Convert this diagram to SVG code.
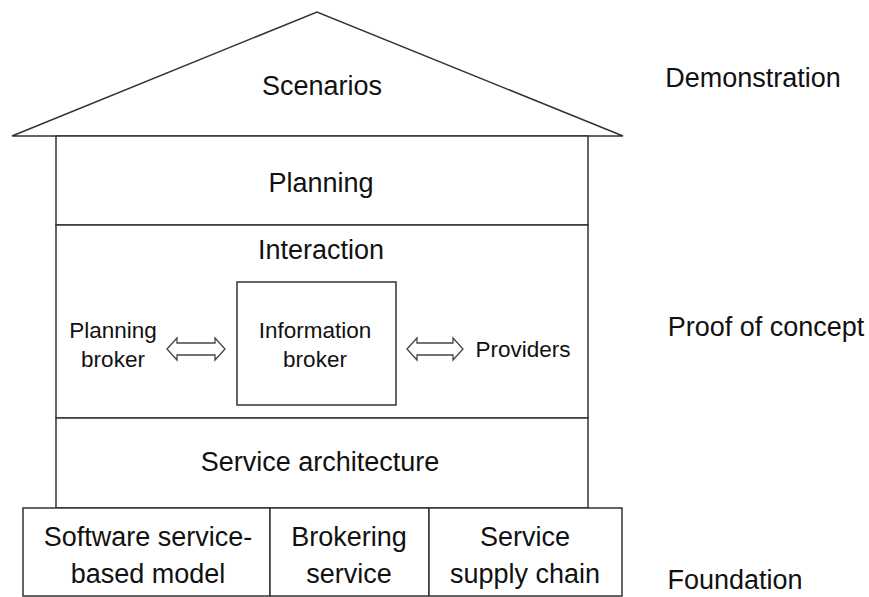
<svg xmlns="http://www.w3.org/2000/svg" width="869" height="597" viewBox="0 0 869 597">
<style>
.s{fill:#fff;stroke:#333;stroke-width:1.5}
.t{font-family:"Liberation Sans",Arial,sans-serif;fill:#111;text-anchor:middle}
.l{font-size:27px}
.m{font-size:22.5px}
.a{fill:#fff;stroke:#444;stroke-width:1.3;stroke-linejoin:miter}
</style>
<rect width="869" height="597" fill="#fff"/>
<g id="roof"><polygon class="s" points="12,136 317,12 623,136"/><text class="t l" x="322" y="95">Scenarios</text></g>
<g id="planning"><rect class="s" x="56" y="136" width="532" height="89"/><text class="t l" x="321" y="192">Planning</text></g>
<g id="interaction"><rect class="s" x="56" y="225" width="532" height="193"/><text class="t l" x="321" y="259">Interaction</text></g>
<g id="planning-broker"><text class="t m" x="113" y="338">Planning</text><text class="t m" x="113" y="367">broker</text></g>
<g id="information-broker"><rect class="s" x="237" y="282" width="159" height="123"/><text class="t m" x="315" y="338">Information</text><text class="t m" x="315" y="367">broker</text></g>
<g id="providers"><text class="t m" x="523" y="357">Providers</text></g>
<g id="service-architecture"><rect class="s" x="56" y="418" width="532" height="90"/><text class="t l" x="320" y="471">Service architecture</text></g>
<g id="software-model"><rect class="s" x="23" y="508" width="247" height="88"/><text class="t l" x="148" y="546">Software service-</text><text class="t l" x="148" y="583">based model</text></g>
<g id="brokering-service"><rect class="s" x="270" y="508" width="159" height="88"/><text class="t l" x="349" y="546">Brokering</text><text class="t l" x="349" y="583">service</text></g>
<g id="supply-chain"><rect class="s" x="429" y="508" width="193" height="88"/><text class="t l" x="525" y="546">Service</text><text class="t l" x="525" y="583">supply chain</text></g>
<g id="labels">
<text class="t l" x="753" y="87">Demonstration</text>
<text class="t l" x="766" y="336">Proof of concept</text>
<text class="t l" x="735" y="589">Foundation</text>
</g>
<g id="connectors">
<polygon class="a" points="167,349 177,338 177,343 215,343 215,338 225,349 215,360 215,355 177,355 177,360"/>
<polygon class="a" points="407,349 417,338 417,343 453,343 453,338 463,349 453,360 453,355 417,355 417,360"/>
</g>
</svg>
